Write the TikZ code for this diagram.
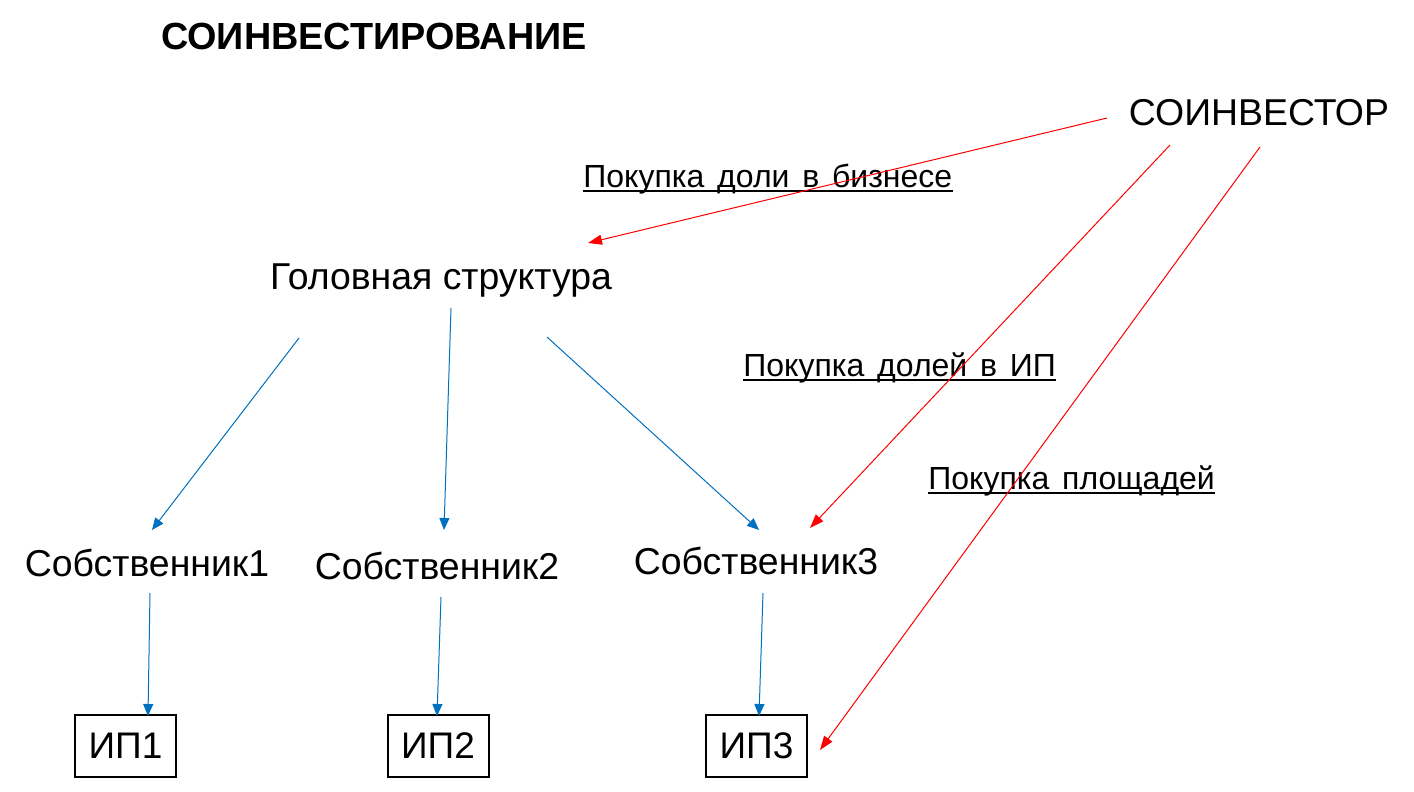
\documentclass[tikz,border=0pt]{standalone}
\usepackage{fontspec}
\setmainfont{Liberation Sans}
\usetikzlibrary{arrows.meta}
\definecolor{redline}{RGB}{255,0,0}
\definecolor{blueline}{RGB}{0,112,192}
\newcommand{\gap}{\hspace{6.4pt}}
\tikzset{
  txt/.style={inner sep=0pt, anchor=base, font=\fontsize{18.7}{20}\selectfont},
  lbl/.style={inner sep=0pt, anchor=base west, font=\fontsize{16}{18}\selectfont},
  ipbox/.style={draw, line width=1pt, minimum width=50.5pt, minimum height=31pt, inner sep=0pt, font=\fontsize{18.5}{21}\selectfont},
  redarrow/.style={draw=redline, line width=0.5pt, -{Triangle[length=7pt,width=5pt]}},
  bluearrow/.style={draw=blueline, line width=0.5pt, -{Triangle[length=6pt,width=5pt]}},
}
\begin{document}
\begin{tikzpicture}[x=0.5pt,y=-0.5pt]
\useasboundingbox (0,0) rectangle (1414,792);
% texts
\node[txt, font=\fontsize{18.9}{20}\selectfont\bfseries] (title) at (374,50) {СОИНВЕСТИРОВАНИЕ};
\node[txt] (inv) at (1259,126) {СОИНВЕСТОР};
\node[txt] (head) at (441,289) {Головная структура};
\node[txt] (s1) at (147,576) {Собственник1};
\node[txt] (s2) at (437,579) {Собственник2};
\node[txt] (s3) at (756,574) {Собственник3};
\node[ipbox] (ip1) at (125.5,746) {ИП1};
\node[ipbox] (ip2) at (438,746) {ИП2};
\node[ipbox] (ip3) at (756.5,746) {ИП3};
% labels
\node[lbl] (l1) at (583,187) {Покупка\gap доли\gap в\gap бизнесе};
\node[lbl] (l2) at (743,376) {Покупка\gap долей\gap в\gap ИП};
\node[lbl] (l3) at (928,489) {Покупка\gap площадей};
\foreach \l in {l1,l2,l3}{
  \draw[line width=1pt] ([yshift=-1.8pt]\l.base west) -- ([yshift=-1.8pt]\l.base east);
}
% connector end points
\coordinate (inv-a) at (1107,118);
\coordinate (head-in) at (588,243);
\coordinate (inv-b) at (1170,145);
\coordinate (s3-in) at (810,528);
\coordinate (inv-c) at (1260,147);
\coordinate (ip3-in) at (820,750);
\coordinate (head-a) at (299,338);
\coordinate (s1-top) at (152,530);
\coordinate (head-b) at (451,308);
\coordinate (s2-top) at (444,530);
\coordinate (head-c) at (547,337);
\coordinate (s3-top) at (759,530);
\coordinate (s1-bot) at (150,593);
\coordinate (ip1-top) at (148,716);
\coordinate (s2-bot) at (441,597);
\coordinate (ip2-top) at (437,716);
\coordinate (s3-bot) at (763,593);
\coordinate (ip3-top) at (759,716);
% red connectors
\draw[redarrow] (inv-a) -- (head-in);
\draw[redarrow] (inv-b) -- (s3-in);
\draw[redarrow] (inv-c) -- (ip3-in);
% blue connectors
\draw[bluearrow] (head-a) -- (s1-top);
\draw[bluearrow] (head-b) -- (s2-top);
\draw[bluearrow] (head-c) -- (s3-top);
\draw[bluearrow] (s1-bot) -- (ip1-top);
\draw[bluearrow] (s2-bot) -- (ip2-top);
\draw[bluearrow] (s3-bot) -- (ip3-top);
\end{tikzpicture}
\end{document}
